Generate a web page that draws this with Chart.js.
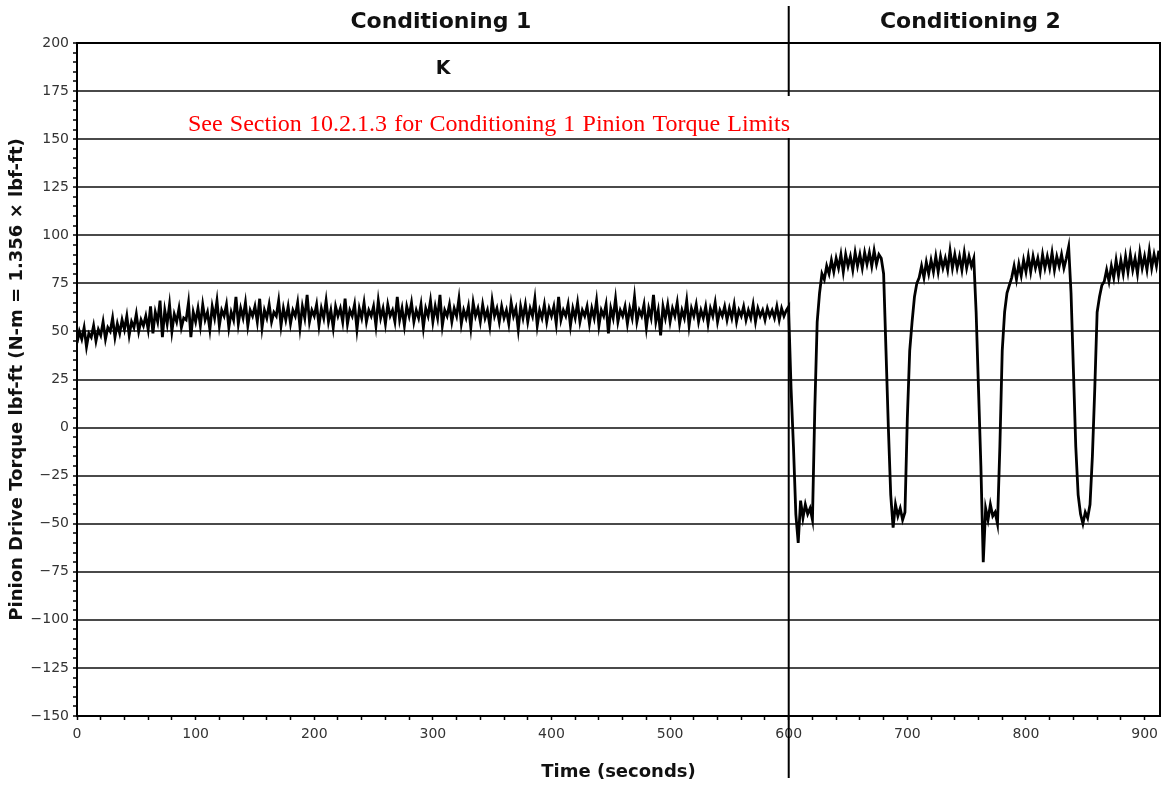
<!DOCTYPE html>
<html>
<head>
<meta charset="utf-8">
<script src="https://cdn.jsdelivr.net/npm/chart.js@4/dist/chart.umd.min.js"></script>
<style>
  html, body { margin: 0; padding: 0; background: #fff; }
  #wrap { width: 1169px; height: 786px; }
</style>
</head>
<body>
<div id="wrap"><canvas id="torque-chart"></canvas></div>
<script>
// Conditioning 1: one reading every 2 s, 0 .. 600 s
const cond1Start = 0;
const cond1Step = 2;
const cond1Torque = [
  44, 50, 46, 52, 42, 49, 47, 53, 45, 51,
  48, 55, 46, 52, 50, 57, 47, 54, 49, 56,
  51, 58, 48, 55, 52, 59, 50, 56, 53, 58,
  51, 63, 49, 60, 55, 66, 47, 61, 54, 64,
  50, 59, 55, 62, 52, 57, 56, 65, 47, 60,
  55, 62, 53, 64, 56, 60, 51, 63, 57, 66,
  53, 61, 58, 64, 52, 60, 56, 68, 54, 62,
  57, 65, 53, 61, 58, 63, 55, 67, 52, 61,
  57, 64, 55, 60, 58, 66, 53, 62, 56, 63,
  54, 61, 58, 65, 52, 63, 57, 69, 55, 61,
  58, 64, 53, 62, 57, 66, 55, 61, 52, 63,
  58, 62, 55, 67, 54, 61, 58, 64, 51, 62,
  57, 65, 55, 61, 58, 63, 53, 66, 57, 62,
  54, 64, 58, 61, 55, 68, 56, 62, 53, 63,
  58, 65, 55, 61, 57, 64, 52, 62, 58, 66,
  55, 63, 57, 69, 53, 61, 58, 64, 55, 62,
  58, 67, 54, 61, 57, 63, 52, 65, 58, 62,
  55, 64, 57, 61, 53, 66, 58, 62, 55, 63,
  57, 61, 54, 65, 58, 62, 51, 63, 57, 64,
  55, 62, 58, 67, 53, 61, 57, 64, 55, 62,
  58, 63, 54, 68, 56, 61, 58, 64, 53, 62,
  57, 65, 55, 61, 58, 63, 54, 62, 57, 66,
  53, 61, 58, 64, 49, 62, 57, 67, 55, 61,
  58, 63, 54, 62, 57, 68, 55, 61, 58, 64,
  52, 62, 57, 69, 55, 61, 48, 63, 57, 64,
  55, 62, 58, 65, 54, 61, 57, 66, 53, 62,
  58, 64, 55, 61, 57, 63, 54, 62, 58, 65,
  55, 61, 58, 63, 56, 62, 57, 64, 55, 61,
  58, 63, 56, 61, 57, 64, 55, 62, 58, 61,
  56, 62, 58, 61, 57, 63, 56, 62, 58, 61,
  63
];

// Conditioning 2: one reading every 2 s, 600 .. 912 s
const cond2Start = 600;
const cond2Step = 2;
const cond2Torque = [
  60, 20, -10, -45, -60, -38, -47, -40, -45, -42, -48,
  10, 55, 70, 80, 77, 84, 80, 87, 81, 88, 83, 90, 81, 90, 84, 89, 82, 91, 84, 90, 83, 91, 85, 91, 84, 92, 85, 90, 88,
  80, 40, 0, -35, -52, -40, -46, -42, -48, -44,
  5, 40, 55, 68, 75, 78, 84, 78, 86, 80, 87, 81, 89, 81, 89, 83, 88, 82, 92, 83, 90, 83, 89, 82, 91, 83, 89, 84, 88,
  60, 20, -20, -70, -42, -48, -40, -46, -44, -50,
  -10, 40, 60, 70, 74, 78, 84, 77, 85, 79, 87, 81, 89, 81, 89, 83, 88, 81, 90, 83, 89, 83, 91, 82, 89, 84, 90, 83, 88, 94,
  70, 30, -10, -35, -45, -50, -44, -47, -40,
  -15, 20, 60, 68, 74, 76, 82, 76, 84, 78, 87, 79, 87, 80, 89, 81, 90, 82, 88, 80, 91, 83, 89, 82, 92, 83, 90, 84, 92
];

const xTickLabels = [0, 100, 200, 300, 400, 500, 600, 700, 800, 900];
const yTickLabels = [200, 175, 150, 125, 100, 75, 50, 25, 0, -25, -50, -75, -100, -125, -150];
const sectionTitles = ["Conditioning 1", "Conditioning 2"];
const sectionBreak = 600;
const timeMax = 913;
const noteText = "See Section 10.2.1.3 for Conditioning 1 Pinion Torque Limits";
const markText = "K";

const points = cond1Torque.map((v, i) => ({ x: cond1Start + i * cond1Step, y: v }))
  .concat(cond2Torque.map((v, i) => ({ x: cond2Start + i * cond2Step, y: v })));

const overlay = {
  id: "overlay",
  afterDatasetsDraw(chart) {
    const ctx = chart.ctx;
    const a = chart.chartArea;
    const xs = chart.scales.x;
    const ys = chart.scales.y;
    ctx.save();
    ctx.strokeStyle = "#000";
    ctx.lineWidth = 2;
    // frame top and right
    ctx.beginPath();
    ctx.moveTo(a.left, ys.getPixelForValue(200));
    ctx.lineTo(a.right, ys.getPixelForValue(200));
    ctx.lineTo(a.right, a.bottom);
    ctx.stroke();
    // section divider
    const bx = xs.getPixelForValue(sectionBreak);
    ctx.beginPath();
    ctx.moveTo(bx, 6);
    ctx.lineTo(bx, 778);
    ctx.stroke();
    ctx.restore();
  },
  afterDraw(chart) {
    const ctx = chart.ctx;
    const a = chart.chartArea;
    const xs = chart.scales.x;
    const bx = xs.getPixelForValue(sectionBreak);
    ctx.save();
    ctx.fillStyle = "#111";
    ctx.font = "bold 22px 'DejaVu Sans'";
    ctx.textAlign = "center";
    ctx.textBaseline = "middle";
    ctx.fillText(sectionTitles[0], (a.left + bx) / 2 + 8, 22);
    ctx.fillText(sectionTitles[1], (bx + a.right) / 2 - 4, 22);
    ctx.font = "bold 19px 'DejaVu Sans'";
    ctx.fillText(markText, 443, 69);
    // note box
    ctx.fillStyle = "#fff";
    ctx.fillRect(166, 96, 644, 42);
    ctx.fillStyle = "#ff0000";
    ctx.font = "24px 'Liberation Serif'";
    ctx.textAlign = "left";
    ctx.textBaseline = "alphabetic";
    const words = noteText.split(" ");
    const natural = ctx.measureText(noteText).width;
    const gap = ctx.measureText(" ").width + (602 - natural) / (words.length - 1);
    let x = 188;
    words.forEach(w => {
      ctx.fillText(w, x, 131);
      x += ctx.measureText(w).width + gap;
    });
    ctx.restore();
  }
};

const ctx = document.getElementById("torque-chart").getContext("2d");
new Chart(ctx, {
  type: "line",
  data: {
    datasets: [{
      data: points,
      borderColor: "#000",
      borderWidth: 2.8,
      pointRadius: 0,
      tension: 0,
      fill: false
    }]
  },
  options: {
    responsive: true,
    maintainAspectRatio: false,
    animation: false,
    layout: { padding: { top: 43, right: 9, bottom: 0, left: 0 } },
    plugins: { legend: { display: false }, tooltip: { enabled: false } },
    scales: {
      x: {
        type: "linear",
        min: 0,
        max: timeMax,
        afterBuildTicks(scale) {
          const t = [];
          for (let v = 0; v <= 900; v += 20) t.push({ value: v });
          scale.ticks = t;
        },
        afterFit(scale) { scale.height = 70; },
        border: { color: "#000", width: 2 },
        grid: { drawOnChartArea: false, tickLength: 4, tickColor: "#000", tickWidth: 1.5 },
        ticks: {
          autoSkip: false,
          maxRotation: 0,
          padding: 6,
          color: "#333",
          font: { family: "DejaVu Sans", size: 14 },
          callback: v => xTickLabels.includes(v) ? String(v) : ""
        },
        title: {
          display: true,
          text: "Time (seconds)",
          color: "#111",
          font: { family: "DejaVu Sans", size: 18, weight: "bold" },
          padding: { top: 0, bottom: 3 }
        }
      },
      y: {
        min: -150,
        max: 200,
        afterBuildTicks(scale) {
          const t = [];
          for (let v = -150; v <= 200; v += 5) t.push({ value: v });
          scale.ticks = t;
        },
        afterFit(scale) { scale.width = 77; },
        border: { color: "#000", width: 2 },
        grid: {
          color: c => (c.tick && c.tick.value % 25 === 0) ? "#4a4a4a" : "rgba(0,0,0,0)",
          lineWidth: c => (c.tick && c.tick.value % 25 === 0) ? 2 : 0,
          tickLength: 4,
          tickColor: "#000",
          tickWidth: 1.5
        },
        ticks: {
          autoSkip: false,
          padding: 4,
          color: "#333",
          font: { family: "DejaVu Sans", size: 14 },
          callback: v => yTickLabels.includes(v) ? String(v).replace("-", "\u2212") : ""
        },
        title: {
          display: true,
          text: "Pinion Drive Torque lbf-ft (N-m = 1.356 \u00d7 lbf-ft)",
          color: "#111",
          font: { family: "DejaVu Sans", size: 18, weight: "bold" },
          padding: { top: 7, bottom: 0 }
        }
      }
    }
  },
  plugins: [overlay]
});
</script>
</body>
</html>
